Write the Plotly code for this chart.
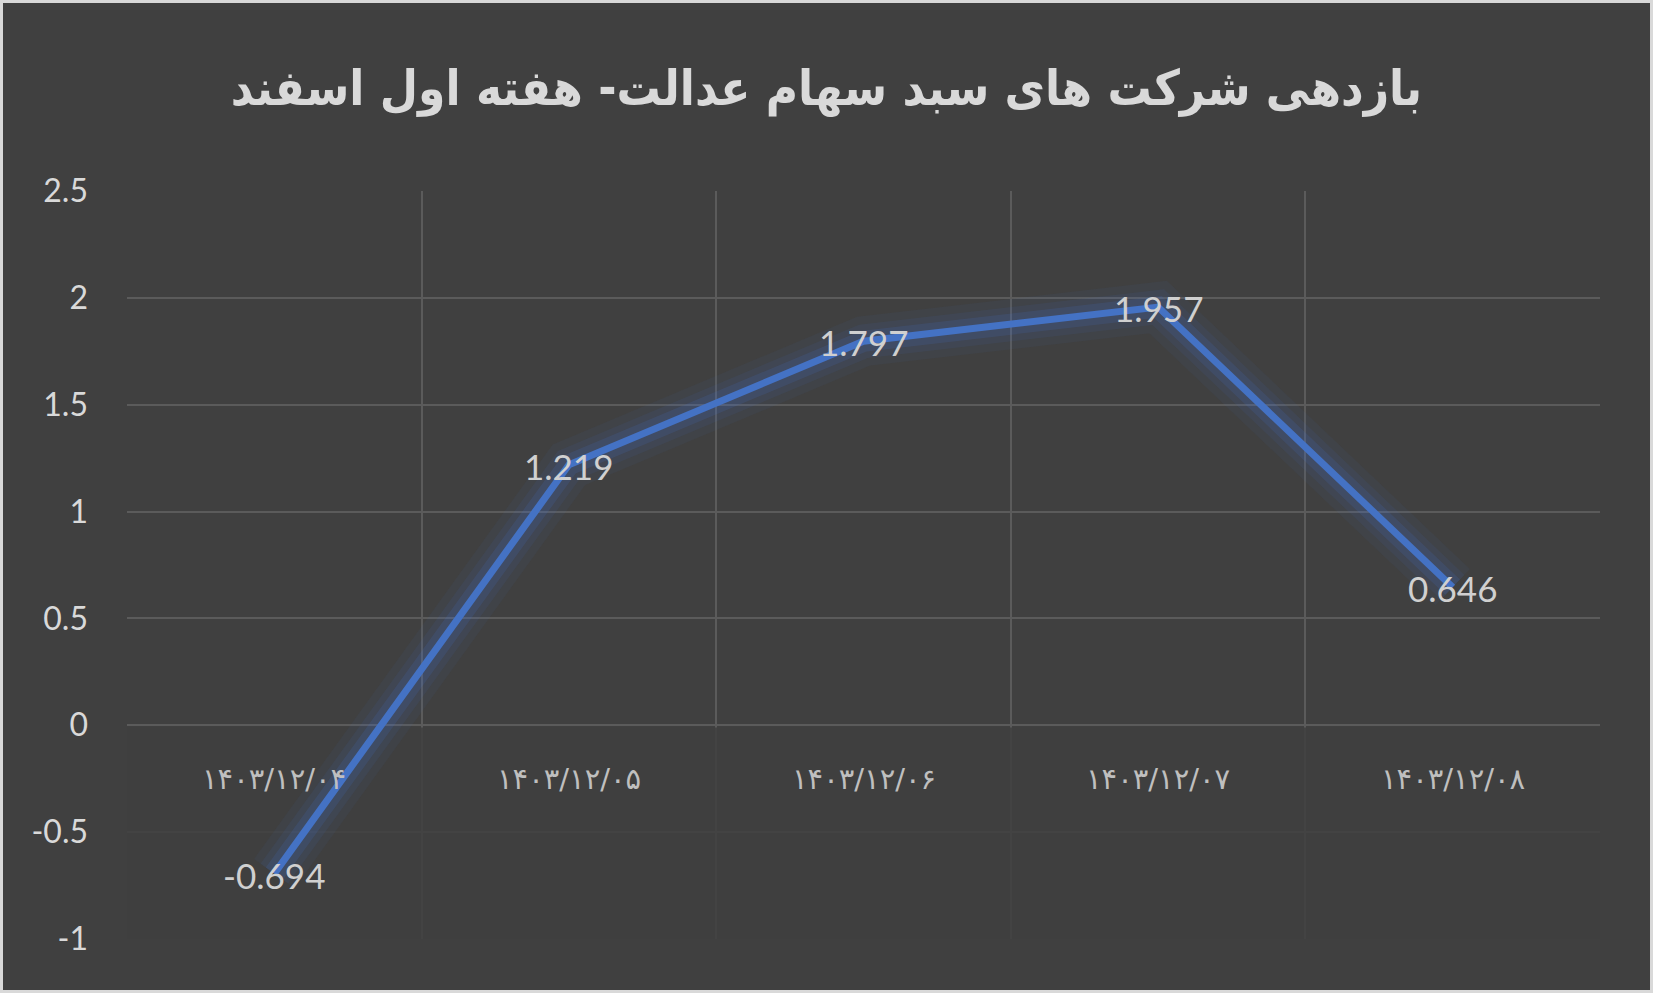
import plotly.graph_objects as go

# data
dates = ["۱۴۰۳/۱۲/۰۴", "۱۴۰۳/۱۲/۰۵", "۱۴۰۳/۱۲/۰۶", "۱۴۰۳/۱۲/۰۷", "۱۴۰۳/۱۲/۰۸"]
returns = [-0.694, 1.219, 1.797, 1.957, 0.646]
title_text = "بازدهی شرکت های سبد سهام عدالت- هفته اول اسفند"
y_ticks = [-1, -0.5, 0, 0.5, 1, 1.5, 2, 2.5]
y_tick_text = ["-1", "-0.5", "0", "0.5", "1", "1.5", "2", "2.5"]

W, H = 1653, 993
ML, MR, MT, MB = 127, 53, 191, 54
BG = "#404040"
BLUE = "#4472C4"
TXT = "#d9d9d9"

xs = list(range(len(dates)))

fig = go.Figure()

# soft glow under the line
for w, a in [(50, 0.06), (34, 0.09), (21, 0.16)]:
    fig.add_scatter(x=xs, y=returns, mode="lines", showlegend=False, hoverinfo="skip",
                    line=dict(color=f"rgba(68,114,196,{a})", width=w))

fig.add_scatter(x=xs, y=returns, mode="lines", showlegend=False,
                line=dict(color=BLUE, width=7))

# value labels, centred on the points
for x, v in zip(xs, returns):
    fig.add_annotation(x=x, y=v, text=f"{v:.3f}", showarrow=False, yanchor="middle", yshift=-1,
                       font=dict(family="Lato, Open Sans, sans-serif", size=35, color="#d0d0d0"))

# category labels sit right under the zero line, like the source chart
for x, d in zip(xs, dates):
    fig.add_annotation(x=x, y=0, text=d, showarrow=False, yanchor="middle", yshift=-54,
                       font=dict(family="DejaVu Sans", size=29, color="#bfbfbf"))

# dim the grid under zero
fig.add_shape(type="rect", xref="x", yref="y", x0=-0.5, x1=len(dates) - 0.5,
              y0=min(y_ticks) - 0.2, y1=-0.01, layer="between",
              fillcolor="rgba(64,64,64,0.85)", line_width=0)

# outer frame
fig.add_shape(type="rect", xref="paper", yref="paper",
              x0=-ML / (W - ML - MR), x1=1 + MR / (W - ML - MR),
              y0=-MB / (H - MT - MB), y1=1 + MT / (H - MT - MB),
              line=dict(color="#d9d9d9", width=6), fillcolor="rgba(0,0,0,0)")

fig.update_layout(
    width=W, height=H,
    margin=dict(l=ML, r=MR, t=MT, b=MB),
    paper_bgcolor=BG, plot_bgcolor=BG,
    title=dict(text=f"<b>{title_text}</b>", x=0.5, xanchor="center", xref="container",
               y=1 - 88 / H, yanchor="middle", yref="container",
               font=dict(family="DejaVu Sans Condensed, DejaVu Sans", size=49, color=TXT)),
    xaxis=dict(range=[-0.5, len(dates) - 0.5], tickmode="linear", tick0=-0.5, dtick=1,
               showticklabels=False, showgrid=True, gridcolor="#5b5b5b", gridwidth=2,
               zeroline=False, showline=False),
    yaxis=dict(range=[-1, 2.5], tickvals=y_ticks, ticktext=y_tick_text,
               showgrid=True, gridcolor="#5b5b5b", gridwidth=2,
               zeroline=True, zerolinecolor="#5b5b5b", zerolinewidth=2,
               ticklabelstandoff=38,
               tickfont=dict(family="Lato, Open Sans, sans-serif", size=32, color=TXT)),
)

fig.write_html("out.html", config={"displayModeBar": False},
               post_script="document.body.style.margin='0';")
